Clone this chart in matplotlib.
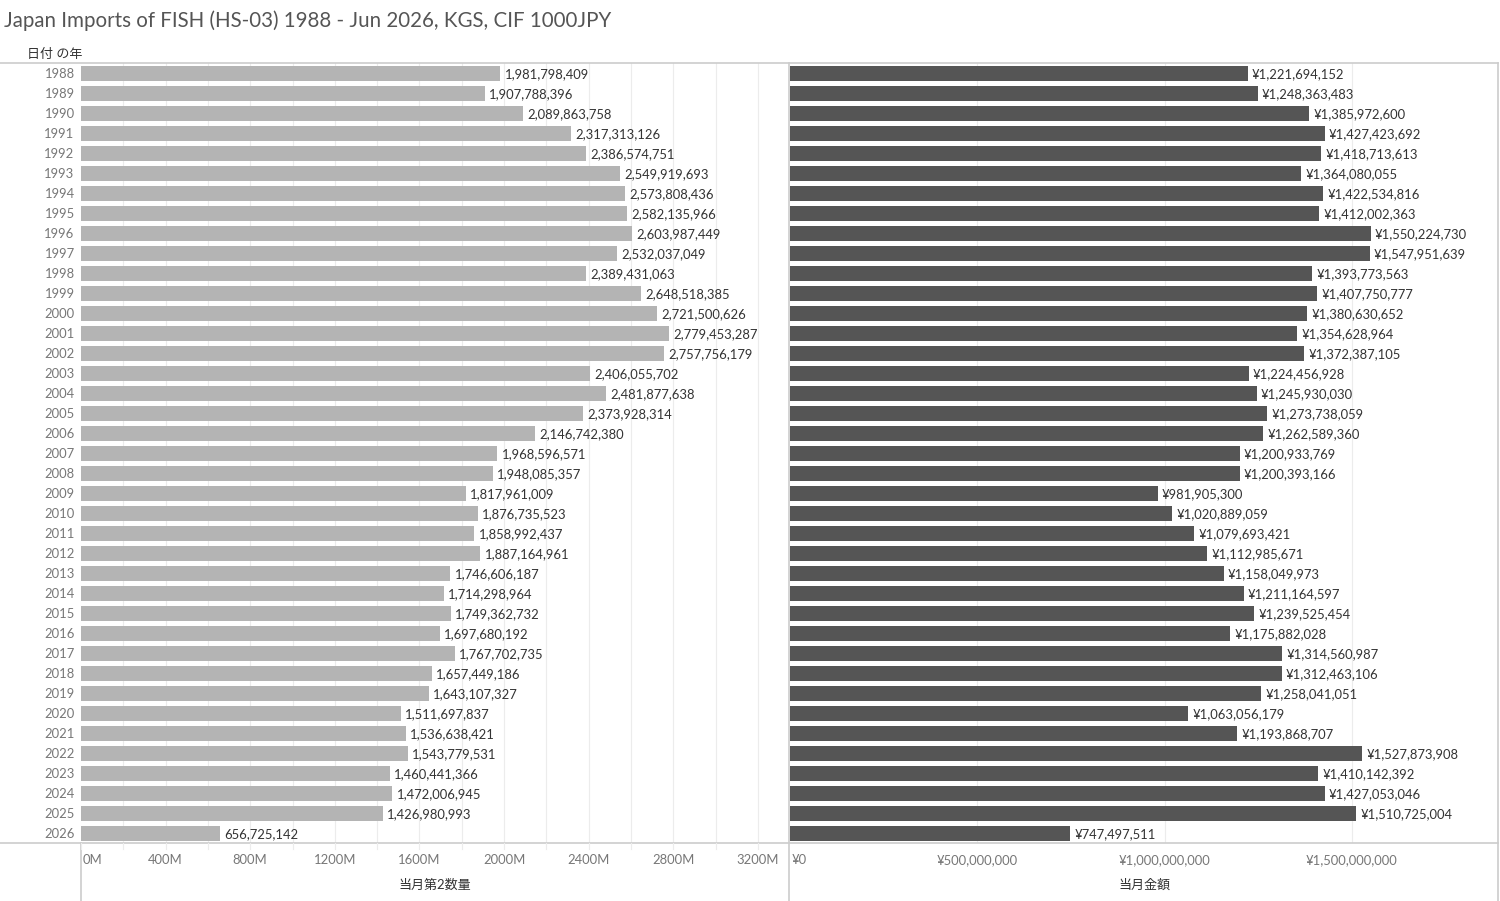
import matplotlib
matplotlib.use("Agg")
import matplotlib.pyplot as plt
from matplotlib.lines import Line2D

plt.rcParams['font.family'] = ['Lato', 'Noto Sans CJK JP', 'DejaVu Sans']

title = "Japan Imports of FISH (HS-03) 1988 - Jun 2026, KGS, CIF 1000JPY"
row_header = "日付 の年"
left_axis_title = "当月第2数量"
right_axis_title = "当月金額"

years = list(range(1988, 2027))
quantity_kgs = [
    1981798409, 1907788396, 2089863758, 2317313126, 2386574751, 2549919693,
    2573808436, 2582135966, 2603987449, 2532037049, 2389431063, 2648518385,
    2721500626, 2779453287, 2757756179, 2406055702, 2481877638, 2373928314,
    2146742380, 1968596571, 1948085357, 1817961009, 1876735523, 1858992437,
    1887164961, 1746606187, 1714298964, 1749362732, 1697680192, 1767702735,
    1657449186, 1643107327, 1511697837, 1536638421, 1543779531, 1460441366,
    1472006945, 1426980993, 656725142,
]
value_jpy = [
    1221694152, 1248363483, 1385972600, 1427423692, 1418713613, 1364080055,
    1422534816, 1412002363, 1550224730, 1547951639, 1393773563, 1407750777,
    1380630652, 1354628964, 1372387105, 1224456928, 1245930030, 1273738059,
    1262589360, 1200933769, 1200393166, 981905300, 1020889059, 1079693421,
    1112985671, 1158049973, 1211164597, 1239525454, 1175882028, 1314560987,
    1312463106, 1258041051, 1063056179, 1193868707, 1527873908, 1410142392,
    1427053046, 1510725004, 747497511,
]
left_ticks = [0, 400e6, 800e6, 1200e6, 1600e6, 2000e6, 2400e6, 2800e6, 3200e6]
left_tick_labels = ["0M", "400M", "800M", "1200M", "1600M", "2000M", "2400M", "2800M", "3200M"]
right_ticks = [0, 500e6, 1000e6, 1500e6]
right_tick_labels = ["¥0", "¥500,000,000", "¥1,000,000,000", "¥1,500,000,000"]

W, H = 1500, 901
fig = plt.figure(figsize=(W / 100, H / 100), dpi=100)
fig.patch.set_facecolor("white")

def px_rect(x0, y0, x1, y1):
    return [x0 / W, 1 - y1 / H, (x1 - x0) / W, (y1 - y0) / H]

top, bottom = 63, 843
lx0, lx1 = 81, 789
rx0, rx1 = 790, 1498

axL = fig.add_axes(px_rect(lx0, top, lx1, bottom))
axR = fig.add_axes(px_rect(rx0, top, rx1, bottom))

n = len(years)
ypos = list(range(n))
LEFT_MAX = 3347e6
RIGHT_MAX = 1890e6
grid_c = "#ececec"
label_fs = 9.4
text_c = "#333333"
tick_c = "#777777"

for ax, vals, color, xmax, fmt, ticks, step in [
    (axL, quantity_kgs, "#b4b4b4", LEFT_MAX, lambda v: f"{v:,}", left_ticks, 200e6),
    (axR, value_jpy, "#555555", RIGHT_MAX, lambda v: f"¥{v:,}", right_ticks, 500e6),
]:
    ax.set_xlim(0, xmax)
    ax.set_ylim(n - 0.5, -0.5)
    g = step
    while g < xmax:
        ax.axvline(g, color=grid_c, lw=0.8, zorder=0)
        g += step
    ax.barh(ypos, vals, height=0.75, color=color, zorder=2)
    for y, v in zip(ypos, vals):
        ax.text(v + xmax * 0.006, y + 0.05, fmt(v), va="center", ha="left",
                fontsize=label_fs, color=text_c, zorder=3)
    ax.set_xticks([])
    ax.set_yticks([])
    for s in ax.spines.values():
        s.set_visible(False)
    ax.patch.set_alpha(0)

# year labels
for y, yr in zip(ypos, years):
    axL.text(-0.009, y + 0.05, str(yr), transform=axL.get_yaxis_transform(),
             ha="right", va="center", fontsize=label_fs, color=tick_c)

# frame lines (figure pixel coords)
def hline(y, x0, x1):
    fig.add_artist(Line2D([x0 / W, x1 / W], [1 - y / H, 1 - y / H], color="#cccccc", lw=1.2))

def vline(x, y0, y1):
    fig.add_artist(Line2D([x / W, x / W], [1 - y0 / H, 1 - y1 / H], color="#cccccc", lw=1.2))

hline(top, 0, rx1)
hline(bottom, 0, rx1)
vline(lx1, top, H)
vline(rx1, top, H)
vline(lx0, bottom, H)

# tick labels and tick marks
def xpix(ax_x0, ax_x1, xmax, v):
    return ax_x0 + (ax_x1 - ax_x0) * v / xmax

for v, lab in zip(left_ticks, left_tick_labels):
    x = xpix(lx0, lx1, LEFT_MAX, v)
    ha = "left" if v == 0 else "center"
    xt = x + 2 if v == 0 else x
    fig.text(xt / W, 1 - 860 / H, lab, ha=ha, va="center", fontsize=label_fs, color=tick_c)
g = 0
while g < LEFT_MAX:
    x = xpix(lx0, lx1, LEFT_MAX, g)
    fig.add_artist(Line2D([x / W, x / W], [1 - bottom / H, 1 - (bottom + 6) / H], color=grid_c, lw=0.8))
    g += 200e6
for v, lab in zip(right_ticks, right_tick_labels):
    x = xpix(rx0, rx1, RIGHT_MAX, v)
    ha = "left" if v == 0 else "center"
    xt = x + 2 if v == 0 else x
    fig.text(xt / W, 1 - 860 / H, lab, ha=ha, va="center", fontsize=label_fs, color=tick_c)

fig.text((lx0 + lx1) / 2 / W, 1 - 885 / H, left_axis_title, ha="center", va="center",
         fontsize=label_fs, color=text_c)
fig.text((rx0 + rx1) / 2 / W, 1 - 885 / H, right_axis_title, ha="center", va="center",
         fontsize=label_fs, color=text_c)

fig.text(27 / W, 1 - 54 / H, row_header, ha="left", va="center", fontsize=label_fs, color=text_c)
fig.text(4 / W, 1 - 21 / H, title, ha="left", va="center", fontsize=14.8, color="#555555")

fig.savefig("out.png", dpi=100, facecolor="white")
